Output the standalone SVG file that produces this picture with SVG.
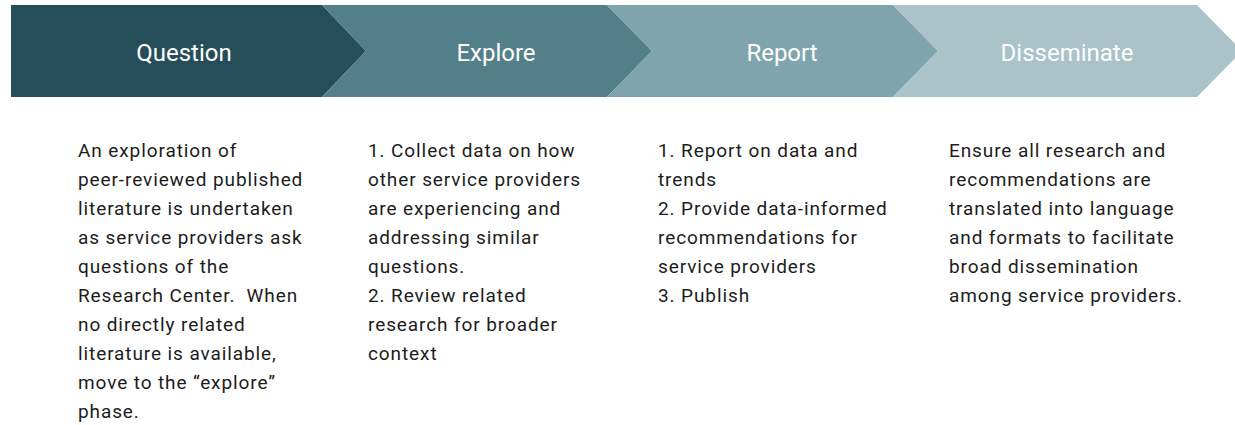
<svg xmlns="http://www.w3.org/2000/svg" width="1235" height="425" viewBox="0 0 1235 425">
  <style>
    .title { font-family: Roboto, "Liberation Sans", sans-serif; font-size: 24px; fill: #ffffff; text-anchor: middle; }
    .body { font-family: Roboto, "Liberation Sans", sans-serif; font-size: 19px; letter-spacing: 0.9px; fill: #1c1c1c; }
  </style>
  <rect width="1235" height="425" fill="#ffffff"/>

  <!-- Process chevrons, drawn left to right -->
  <g id="step-question">
    <polygon points="11,5 322,5 366,51 322,97 11,97" fill="#264e5a"/>
    <text class="title" x="184" y="61">Question</text>
  </g>
  <g id="step-explore">
    <polygon points="322,5 607,5 652,51 607,97 322,97 366,51" fill="#537f8b"/>
    <text class="title" x="496" y="61">Explore</text>
  </g>
  <g id="step-report">
    <polygon points="607,5 893,5 938,51 893,97 607,97 652,51" fill="#7fa4ad"/>
    <text class="title" x="782" y="61">Report</text>
  </g>
  <g id="step-disseminate">
    <polygon points="893,5 1197,5 1242,51 1197,97 893,97 938,51" fill="#a9c3c8"/>
    <text class="title" x="1067" y="61">Disseminate</text>
  </g>

  <g id="connectors"></g>

  <!-- Descriptions under each step -->
  <g id="desc-question">
    <text class="body" x="78" y="157">
      <tspan x="78" y="157">An exploration of</tspan>
      <tspan x="78" y="186">peer-reviewed published</tspan>
      <tspan x="78" y="215">literature is undertaken</tspan>
      <tspan x="78" y="244">as service providers ask</tspan>
      <tspan x="78" y="273">questions of the</tspan>
      <tspan x="78" y="302" xml:space="preserve">Research Center.  When</tspan>
      <tspan x="78" y="331">no directly related</tspan>
      <tspan x="78" y="360">literature is available,</tspan>
      <tspan x="78" y="389">move to the “explore”</tspan>
      <tspan x="78" y="418">phase.</tspan>
    </text>
  </g>
  <g id="desc-explore">
    <text class="body" x="368" y="157">
      <tspan x="368" y="157">1. Collect data on how</tspan>
      <tspan x="368" y="186">other service providers</tspan>
      <tspan x="368" y="215">are experiencing and</tspan>
      <tspan x="368" y="244">addressing similar</tspan>
      <tspan x="368" y="273">questions.</tspan>
      <tspan x="368" y="302">2. Review related</tspan>
      <tspan x="368" y="331">research for broader</tspan>
      <tspan x="368" y="360">context</tspan>
    </text>
  </g>
  <g id="desc-report">
    <text class="body" x="658" y="157">
      <tspan x="658" y="157">1. Report on data and</tspan>
      <tspan x="658" y="186">trends</tspan>
      <tspan x="658" y="215">2. Provide data-informed</tspan>
      <tspan x="658" y="244">recommendations for</tspan>
      <tspan x="658" y="273">service providers</tspan>
      <tspan x="658" y="302">3. Publish</tspan>
    </text>
  </g>
  <g id="desc-disseminate">
    <text class="body" x="949" y="157">
      <tspan x="949" y="157">Ensure all research and</tspan>
      <tspan x="949" y="186">recommendations are</tspan>
      <tspan x="949" y="215">translated into language</tspan>
      <tspan x="949" y="244">and formats to facilitate</tspan>
      <tspan x="949" y="273">broad dissemination</tspan>
      <tspan x="949" y="302">among service providers.</tspan>
    </text>
  </g>
</svg>
